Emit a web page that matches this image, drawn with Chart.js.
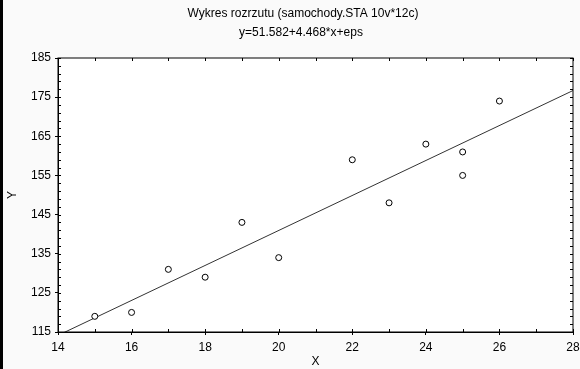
<!DOCTYPE html>
<html>
<head>
<meta charset="utf-8">
<script src="https://cdn.jsdelivr.net/npm/chart.js@4/dist/chart.umd.min.js"></script>
<style>
  html, body { margin: 0; padding: 0; background: #fafafa; }
  #wrap { width: 577px; height: 369px; border-left: 3px solid #000; }
  canvas { display: block; }
</style>
</head>
<body>
<div id="wrap"><canvas id="scatterChart" width="577" height="369"></canvas></div>
<script>
// dane
const xValues = [15, 16, 17, 18, 19, 20, 22, 23, 24, 25, 25, 26];
const yValues = [119, 120, 131, 129, 143, 134, 159, 148, 163, 161, 155, 174];

// prosta regresji z podtytulu: y = 51.582 + 4.468*x
const intercept = 51.582;
const slope = 4.468;
const lineX = [14, 28];

const titleLines = ['Wykres rozrzutu (samochody.STA 10v*12c)', 'y=51.582+4.468*x+eps'];

const points = xValues.map((x, i) => ({ x: x, y: yValues[i] }));
const linePoints = lineX.map(x => ({ x: x, y: intercept + slope * x }));

// biale tlo obszaru wykresu, ramka, drobne znaczniki do srodka, naglowek
const plotFrame = {
  id: 'plotFrame',
  beforeDraw(chart) {
    const a = chart.chartArea;
    const c = chart.ctx;
    c.save();
    c.fillStyle = '#ffffff';
    c.fillRect(a.left, a.top, a.right - a.left, a.bottom - a.top);
    c.restore();
  },
  afterDraw(chart) {
    const a = chart.chartArea;
    const c = chart.ctx;
    const xs = chart.scales.x;
    const ys = chart.scales.y;
    c.save();
    c.strokeStyle = '#000';
    c.lineWidth = 1;
    c.beginPath();
    for (let v = xs.min; v <= xs.max; v += 1) {
      const px = Math.round(xs.getPixelForValue(v)) + 0.5;
      c.moveTo(px, a.top); c.lineTo(px, a.top + 3);
      c.moveTo(px, a.bottom); c.lineTo(px, a.bottom - 3);
    }
    for (let v = ys.min; v <= ys.max; v += 2) {
      const py = Math.round(ys.getPixelForValue(v)) + 0.5;
      c.moveTo(a.left, py); c.lineTo(a.left + 3, py);
      c.moveTo(a.right, py); c.lineTo(a.right - 3, py);
    }
    c.stroke();
    c.strokeRect(a.left, a.top, a.right - a.left, a.bottom - a.top);

    c.fillStyle = '#000';
    c.font = '12px Arial, "Liberation Sans", sans-serif';
    c.textAlign = 'center';
    c.textBaseline = 'middle';
    c.fillText(titleLines[0], 300, 14);
    c.fillText(titleLines[1], 298, 33);
    c.restore();
  }
};

Chart.defaults.font.family = 'Arial, "Liberation Sans", sans-serif';
Chart.defaults.font.size = 12;
Chart.defaults.color = '#000';

const ctx = document.getElementById('scatterChart').getContext('2d');

const scatterChart = new Chart(ctx, {
  type: 'scatter',
  data: {
    datasets: [{
      label: 'dane',
      data: points,
      pointStyle: 'circle',
      pointRadius: 3,
      pointBorderWidth: 1,
      pointBorderColor: '#000',
      pointBackgroundColor: '#fff',
      order: 1
    }, {
      label: 'regresja',
      type: 'line',
      data: linePoints,
      borderColor: '#333',
      borderWidth: 1,
      pointRadius: 0,
      fill: false,
      order: 2
    }]
  },
  options: {
    responsive: false,
    animation: false,
    layout: { padding: { left: 0, right: 0, top: 58, bottom: 0 } },
    plugins: {
      legend: { display: false },
      tooltip: { enabled: false },
      title: { display: false },
      subtitle: { display: false }
    },
    scales: {
      x: {
        type: 'linear',
        min: 14,
        max: 28,
        ticks: { stepSize: 2, padding: 5, maxRotation: 0 },
        grid: { drawOnChartArea: false, tickLength: 3, color: '#000' },
        border: { color: '#000' },
        title: { display: true, text: 'X', padding: { top: 0, bottom: 0 } },
        afterFit(scale) {
          scale.height = 37;
          scale.paddingRight = 7;
        }
      },
      y: {
        type: 'linear',
        min: 115,
        max: 185,
        ticks: { stepSize: 10, padding: 4 },
        grid: { drawOnChartArea: false, tickLength: 3, color: '#000' },
        border: { color: '#000' },
        title: { display: true, text: 'Y', padding: { top: 2, bottom: 0 } },
        afterFit(scale) { scale.width = 55; }
      }
    }
  },
  plugins: [plotFrame]
});
</script>
</body>
</html>
